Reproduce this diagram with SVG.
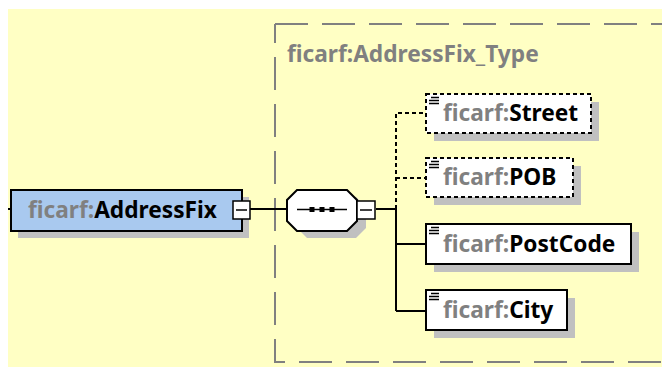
<svg xmlns="http://www.w3.org/2000/svg" width="662" height="367" viewBox="0 0 662 367">
<style>
.t{font-family:"Noto Sans","Liberation Sans",sans-serif;font-weight:bold;font-size:22.7px;fill:#000}
.p{fill:#808080}
.box{fill:#fff;stroke:#000;stroke-width:2}
.opt{fill:#fff;stroke:#000;stroke-width:2;stroke-dasharray:4 3}
.sh{fill:#c0c0c0}
.ln{fill:none;stroke:#000;stroke-width:2}
.dl{fill:none;stroke:#000;stroke-width:2;stroke-dasharray:4 3}
.ic{stroke:#000;stroke-width:1.5}
.mb{fill:#fff;stroke:#000;stroke-width:1.5}
</style>
<rect x="8" y="9" width="654" height="358" fill="#ffffc4"/>
<g id="container">
<path d="M275,24 H662" fill="none" stroke="#808080" stroke-width="2" stroke-dasharray="33 14"/>
<path d="M275,24 V362 H662" fill="none" stroke="#808080" stroke-width="2" stroke-dasharray="33 14" stroke-dashoffset="14"/>
<text class="t p" x="287" y="62">ficarf:AddressFix_Type</text>
</g>
<g id="connectors">
<path class="ln" d="M8,209 H11"/>
<path class="ln" d="M250,209 H287"/>
<path class="ln" d="M376,209 H396 V311 M396,244 H426 M396,311 H426"/>
<path class="dl" d="M396,209 V113 H426 M396,178 H426"/>
</g>
<g id="AddressFix">
<rect class="sh" x="18" y="197" width="231" height="41"/>
<rect x="11" y="190" width="231" height="41" fill="#a9c9ef" stroke="#000" stroke-width="2"/>
<text class="t" x="28" y="218"><tspan class="p">ficarf:</tspan>AddressFix</text>
<rect class="mb" x="233" y="201" width="17" height="18"/>
<path class="ic" d="M236,210 H247"/>
</g>
<g id="sequence">
<path class="sh" d="M307,197 H356 L366,207 V228 L356,238 H307 L297,228 V207 Z"/>
<path fill="#fff" stroke="#000" stroke-width="2" d="M297,190 H347 L357,200 V221 L347,231 H297 L287,221 V200 Z"/>
<path class="ic" d="M297,209.5 H347"/>
<rect x="309.5" y="207" width="5" height="5"/>
<rect x="319.5" y="207" width="5" height="5"/>
<rect x="329.5" y="207" width="5" height="5"/>
<rect class="mb" x="357" y="201" width="18" height="18"/>
<path class="ic" d="M360,210 H372"/>
</g>
<g id="Street">
<rect class="sh" x="434" y="102" width="165" height="39"/>
<rect class="opt" x="426" y="94" width="165" height="39"/>
<path class="ic" d="M431,97.5 H439 M429,100.5 H439 M429,103.5 H439"/>
<text class="t" x="443" y="121"><tspan class="p">ficarf:</tspan>Street</text>
</g>
<g id="POB">
<rect class="sh" x="434" y="166" width="147" height="39"/>
<rect class="opt" x="426" y="158" width="147" height="39"/>
<path class="ic" d="M431,161.5 H439 M429,164.5 H439 M429,167.5 H439"/>
<text class="t" x="443" y="185"><tspan class="p">ficarf:</tspan>POB</text>
</g>
<g id="PostCode">
<rect class="sh" x="434" y="232" width="205" height="40"/>
<rect class="box" x="426" y="224" width="205" height="40"/>
<path class="ic" d="M431,227.5 H439 M429,230.5 H439 M429,233.5 H439"/>
<text class="t" x="443" y="251.5"><tspan class="p">ficarf:</tspan>PostCode</text>
</g>
<g id="City">
<rect class="sh" x="434" y="298" width="141" height="40"/>
<rect class="box" x="426" y="290" width="141" height="40"/>
<path class="ic" d="M431,293.5 H439 M429,296.5 H439 M429,299.5 H439"/>
<text class="t" x="443" y="317.5"><tspan class="p">ficarf:</tspan>City</text>
</g>
</svg>
